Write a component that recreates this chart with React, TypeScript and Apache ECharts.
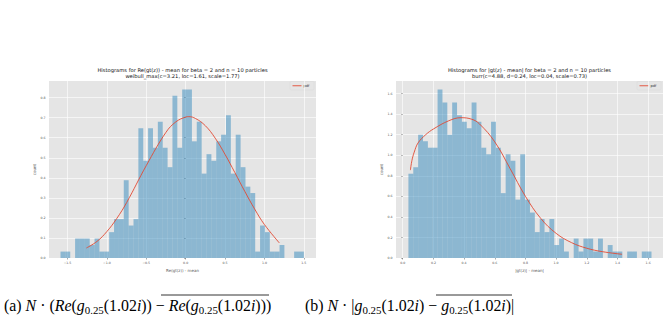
import React, { useEffect, useRef } from "react";
import * as echarts from "echarts";

// ---------- data ----------
const hist1Start = -1.589;
const hist1BinWidth = 0.0618;
const hist1Density = [
  0.032, 0.032, 0, 0.097, 0.097, 0.097, 0.065, 0.097, 0.032, 0.032,
  0.129, 0.194, 0.194, 0.388, 0.162, 0.194, 0.647, 0.485, 0.647, 0.55,
  0.68, 0.55, 0.453, 0.809, 0.55, 0.841, 0.841, 0.582, 0.68, 0.421,
  0.518, 0.485, 0.582, 0.615, 0.712, 0.421, 0.615, 0.453, 0.356, 0.324,
  0.032, 0.162, 0.129, 0.032, 0.032, 0.065, 0, 0, 0.032, 0.032,
];
const pdf1X = [-1.26, -1.125, -1.0, -0.875, -0.75, -0.5, -0.25, -0.125, 0, 0.04, 0.125, 0.25, 0.375, 0.5, 0.625, 0.75, 0.875, 1.0, 1.19];
const pdf1Y = [0.05, 0.083, 0.132, 0.197, 0.276, 0.461, 0.627, 0.679, 0.703, 0.705, 0.696, 0.66, 0.598, 0.517, 0.426, 0.333, 0.245, 0.167, 0.075];

const hist2Start = 0.037;
const hist2BinWidth = 0.0317;
const hist2Density = [
  0.82, 0.883, 1.199, 1.136, 1.073, 1.073, 1.64, 1.514, 1.199, 1.514,
  1.388, 1.325, 1.262, 1.514, 1.325, 1.073, 1.009, 1.325, 1.073, 0.631,
  1.009, 0.946, 0.568, 1.009, 0.568, 0.442, 0.252, 0.379, 0.252, 0.379,
  0.126, 0.189, 0.063, 0, 0.189, 0.063, 0.189, 0.189, 0.063, 0.189,
  0, 0.126, 0.063, 0.063, 0, 0.063, 0.063, 0, 0.063, 0.063,
];
const pdf2X = [0.05, 0.06, 0.075, 0.1, 0.15, 0.2, 0.3, 0.38, 0.45, 0.5, 0.6, 0.7, 0.8, 0.9, 1.0, 1.1, 1.2, 1.3, 1.43];
const pdf2Y = [0.855, 0.95, 1.03, 1.12, 1.2, 1.255, 1.335, 1.365, 1.35, 1.305, 1.13, 0.87, 0.6, 0.385, 0.24, 0.15, 0.095, 0.062, 0.036];

const xTicks1 = [-1.5, -1.0, -0.5, 0, 0.5, 1.0, 1.5];
const yTicks1 = [0, 0.1, 0.2, 0.3, 0.4, 0.5, 0.6, 0.7, 0.8];
const xTicks2 = [0, 0.2, 0.4, 0.6, 0.8, 1.0, 1.2, 1.4, 1.6];
const yTicks2 = [0, 0.2, 0.4, 0.6, 0.8, 1.0, 1.2, 1.4, 1.6];

const title1 = ["Histograms for Re(gt(z)) - mean for beta = 2 and n = 10 particles", "weibull_max(c=3.21, loc=1.61, scale=1.77)"];
const title2 = ["Histograms for |gt(z) - mean| for beta = 2 and n = 10 particles", "burr(c=4.88, d=0.24, loc=0.04, scale=0.73)"];
const xName1 = "Re(gt(z)) - mean";
const xName2 = "|gt(z)| - mean|";
const yName = "count";
const legendName = "pdf";

// ---------- styles ----------
const BG = "#E5E5E5";
const TICK = "#555555";
const BAR = "#348ABD";
const RED = "#E24A33";
const SANS = "DejaVu Sans";
const SERIF = "Liberation Serif";

const fmt = (v: number) => (v < 0 ? "\u2212" : "") + Math.abs(v).toFixed(1);

function barSeries(idx: number, start: number, width: number, dens: number[]) {
  return {
    type: "custom",
    xAxisIndex: idx,
    yAxisIndex: idx,
    silent: true,
    z: 2,
    data: dens.map((h, i) => [start + i * width, start + (i + 1) * width, h]),
    encode: { x: [0, 1], y: 2 },
    renderItem: (_p: any, api: any) => {
      const h = api.value(2);
      if (!h) return null;
      const p0 = api.coord([api.value(0), h]);
      const p1 = api.coord([api.value(1), 0]);
      return {
        type: "rect",
        shape: { x: p0[0], y: p0[1], width: p1[0] - p0[0], height: p1[1] - p0[1] },
        style: { fill: BAR, opacity: 0.5 },
      };
    },
  };
}

function lineSeries(idx: number, xs: number[], ys: number[]) {
  return {
    type: "line",
    name: legendName,
    xAxisIndex: idx,
    yAxisIndex: idx,
    data: xs.map((x, i) => [x, ys[i]]),
    smooth: 0.4,
    symbol: "none",
    z: 3,
    color: RED,
    lineStyle: { color: RED, width: 0.9 },
    itemStyle: { color: RED },
  };
}

function xAxis(idx: number, min: number, max: number, ticks: number[], name: string) {
  return {
    type: "value",
    gridIndex: idx,
    min,
    max,
    name,
    nameLocation: "middle",
    nameGap: 8.5,
    nameTextStyle: { fontSize: 4, color: TICK, fontFamily: SANS },
    axisLine: { show: false },
    axisTick: { show: true, customValues: ticks, length: 1.5, lineStyle: { color: TICK, width: 0.5 } },
    axisLabel: { customValues: ticks, fontSize: 3.2, color: TICK, fontFamily: SANS, margin: 3, formatter: fmt },
    splitLine: { show: true, lineStyle: { color: "#FFFFFF", width: 0.6 } },
  };
}

function yAxis(idx: number, max: number, ticks: number[]) {
  return {
    type: "value",
    gridIndex: idx,
    min: 0,
    max,
    name: yName,
    nameLocation: "middle",
    nameGap: 12,
    nameTextStyle: { fontSize: 4, color: TICK, fontFamily: SANS },
    axisLine: { show: false },
    axisTick: { show: true, customValues: ticks, length: 1.5, lineStyle: { color: TICK, width: 0.5 } },
    axisLabel: { customValues: ticks, fontSize: 3.2, color: TICK, fontFamily: SANS, margin: 3.5, formatter: fmt },
    splitLine: { show: true, lineStyle: { color: "#FFFFFF", width: 0.6 } },
  };
}

function legendGraphic(x: number) {
  return {
    type: "group",
    x,
    y: 81.5,
    silent: true,
    children: [
      { type: "rect", shape: { x: 0, y: 0, width: 24, height: 8.5, r: 1 }, style: { fill: "rgba(229,229,229,0.8)", stroke: "#D2D2D2", lineWidth: 0.3 } },
      { type: "line", shape: { x1: 2.5, y1: 4.25, x2: 11.5, y2: 4.25 }, style: { stroke: RED, lineWidth: 0.9 } },
      { type: "text", x: 13.5, y: 4.25, style: { text: legendName, fontSize: 3.6, fontFamily: SANS, fill: "#333", verticalAlign: "middle", align: "left" } },
    ],
  };
}

function titleText(x: number, lines: string[]) {
  return {
    type: "text",
    x,
    y: 66.6,
    silent: true,
    style: {
      text: lines.join("\n"),
      align: "center",
      verticalAlign: "top",
      fontSize: 5.2,
      lineHeight: 6,
      fontFamily: SANS,
      fill: "#111",
    },
  };
}

const captionRich = {
  n: { fontFamily: SERIF, fontSize: 15.9, lineHeight: 20, fill: "#000" },
  i: { fontFamily: SERIF, fontSize: 15.9, lineHeight: 20, fontStyle: "italic", fill: "#000" },
  s: { fontFamily: SERIF, fontSize: 10.9, lineHeight: 11, padding: [9, 0, 0, 0], fill: "#000" },
};
const captionA = "{n|(a) }{i|N}{n| \u00B7 (}{i|Re}{n|(}{i|g}{s|0.25}{n|(1.02}{i|i}{n|)) \u2212 }{i|Re}{n|(}{i|g}{s|0.25}{n|(1.02}{i|i}{n|)))}";
const captionB = "{n|(b) }{i|N}{n| \u00B7 |}{i|g}{s|0.25}{n|(1.02}{i|i}{n|) \u2212 }{i|g}{s|0.25}{n|(1.02}{i|i}{n|)|}";

export default function App() {
  const ref = useRef<HTMLDivElement>(null);
  useEffect(() => {
    document.body.style.margin = "0";
    if (!ref.current) return;
    const chart = echarts.init(ref.current, undefined, { renderer: "svg" });
    chart.setOption({
      animation: false,
      backgroundColor: "#FFFFFF",
      grid: [
        { left: 49, top: 81, width: 267, height: 177, show: true, backgroundColor: BG, borderWidth: 0 },
        { left: 396, top: 81, width: 267, height: 177, show: true, backgroundColor: BG, borderWidth: 0 },
      ],
      xAxis: [xAxis(0, -1.735, 1.655, xTicks1, xName1), xAxis(1, -0.044, 1.697, xTicks2, xName2)],
      yAxis: [yAxis(0, 0.883, yTicks1), yAxis(1, 1.722, yTicks2)],
      series: [
        barSeries(0, hist1Start, hist1BinWidth, hist1Density),
        lineSeries(0, pdf1X, pdf1Y),
        barSeries(1, hist2Start, hist2BinWidth, hist2Density),
        lineSeries(1, pdf2X, pdf2Y),
      ],
      graphic: [
        titleText(182.5, title1),
        titleText(529.5, title2),
        legendGraphic(290),
        legendGraphic(637),
        { type: "text", x: 4, y: 305, silent: true, style: { text: captionA, rich: captionRich, verticalAlign: "middle", fontFamily: SERIF, fontSize: 15.9 } },
        { type: "text", x: 305, y: 305, silent: true, style: { text: captionB, rich: captionRich, verticalAlign: "middle", fontFamily: SERIF, fontSize: 15.9 } },
        { type: "line", silent: true, shape: { x1: 161, y1: 295, x2: 269, y2: 295 }, style: { stroke: "#000", lineWidth: 0.8 } },
        { type: "line", silent: true, shape: { x1: 436, y1: 295, x2: 512, y2: 295 }, style: { stroke: "#000", lineWidth: 0.8 } },
      ],
    });
    return () => chart.dispose();
  }, []);
  return <div ref={ref} style={{ position: "absolute", left: 0, top: 0, width: 670, height: 322 }} />;
}
